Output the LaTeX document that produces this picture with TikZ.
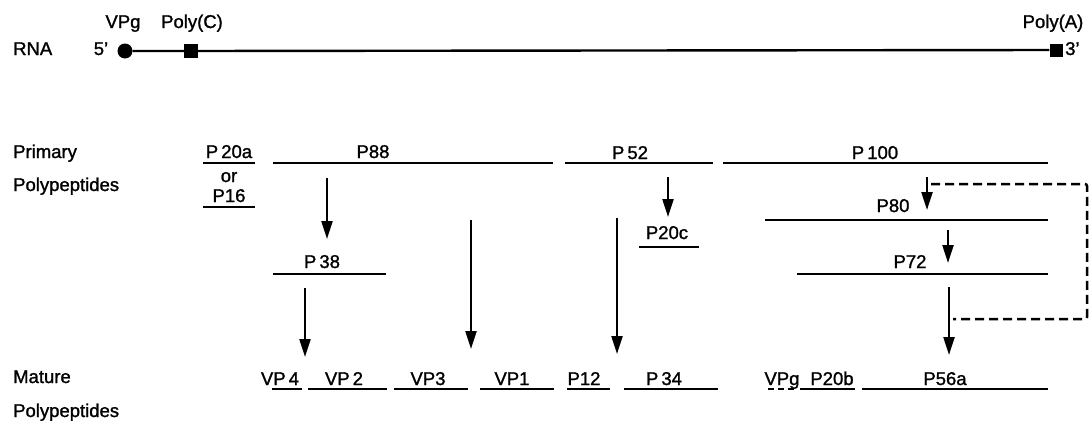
\documentclass[tikz,border=0pt]{standalone}
\usepackage{fontspec}
\setmainfont{Liberation Sans}[BoldFont={Liberation Sans},BoldFeatures={FakeBold=1.3}]
\usetikzlibrary{arrows.meta}
\begin{document}
\begin{tikzpicture}[x=1pt,y=-1pt,
  lbl/.style={anchor=base,inner sep=0pt,font=\fontsize{18.5}{20}\selectfont\bfseries},
  lblw/.style={anchor=base west,inner sep=0pt,font=\fontsize{18.5}{20}\selectfont\bfseries},
  bar/.style={line width=2.9pt},
  arr/.style={line width=2.2pt,-{Triangle[width=11pt,length=18pt]}},
  dsh/.style={line width=2.5pt,dash pattern=on 9pt off 5pt},
  rna/.style={line width=2.4pt}]
\useasboundingbox (0,0) rectangle (1090,423);
% RNA
\node[lblw] (rnal) at (13,55) {RNA};
\node[lbl] (five) at (101,55) {5’};
\node[lbl] (vpgt) at (123,28) {VPg};
\node[lbl] (polyc) at (192,28) {Poly(C)};
\node[lbl] (polya) at (1053,28) {Poly(A)};
\node[lblw] (three) at (1065,55) {3’};
\node[circle,fill,inner sep=0pt,minimum size=15pt] (circ) at (125,51) {};
\node[rectangle,fill,inner sep=0pt,minimum size=14pt] (sqc) at (191,51) {};
\node[rectangle,fill,inner sep=0pt,minimum size=13pt] (sqa) at (1056,50) {};
\draw[rna] (circ) -- (sqc) -- (sqa);
% left labels
\node[lblw] (prim) at (13,158) {Primary};
\node[lblw] (ppol) at (13,191) {Polypeptides};
\node[lblw] (mat) at (13,383) {Mature};
\node[lblw] (mpol) at (13,417) {Polypeptides};
% primary polypeptides
\node[lbl] (p20a) at (229,158) {P\,20a};
\node[lbl] (or) at (229,182) {or};
\node[lbl] (p16) at (229,202) {P16};
\draw[bar] (203,163) -- (255,163);
\draw[bar] (203,207) -- (255,207);
\node[lbl] (p88) at (373,158) {P88};
\draw[bar] (273,163) -- (553,163);
\node[lbl] (p52) at (630,159) {P\,52};
\draw[bar] (565,163) -- (713,163);
\node[lbl] (p100) at (875,159) {P\,100};
\draw[bar] (723,163) -- (1048,163);
% intermediates
\node[lbl] (p38) at (322,268) {P\,38};
\draw[bar] (273,274) -- (386,274);
\node[lbl] (p20c) at (667,239) {P20c};
\draw[bar] (639,247) -- (699,247);
\node[lbl] (p80) at (893,212) {P80};
\draw[bar] (765,220) -- (1048,220);
\node[lbl] (p72) at (910,268) {P72};
\draw[bar] (797,274) -- (1048,274);
% mature
\node[lbl] (vp4) at (280,385) {VP\,4};
\draw[bar] (272,389) -- (302,389);
\node[lbl] (vp2) at (344,385) {VP\,2};
\draw[bar] (308,389) -- (387,389);
\node[lbl] (vp3) at (428,385) {VP3};
\draw[bar] (394,389) -- (468,389);
\node[lbl] (vp1) at (512,385) {VP1};
\draw[bar] (480,389) -- (554,389);
\node[lbl] (p12) at (584,385) {P12};
\draw[bar] (567,389) -- (610,389);
\node[lbl] (p34) at (664,385) {P\,34};
\draw[bar] (624,389) -- (718,389);
\node[lbl] (vpgm) at (782,385) {VPg};
\draw[line width=2.4pt,dash pattern=on 6pt off 4pt] (768,389) -- (797,389);
\node[lbl] (p20b) at (832,385) {P20b};
\draw[bar] (800,389) -- (855,389);
\node[lbl] (p56a) at (945,385) {P56a};
\draw[bar] (862,389) -- (1048,389);
% arrows
\coordinate (a1s) at (327,178); \coordinate (a1e) at (327,239);
\draw[arr] (a1s) -- (a1e);
\coordinate (a2s) at (305,288); \coordinate (a2e) at (305,357);
\draw[arr] (a2s) -- (a2e);
\coordinate (a3s) at (471,220); \coordinate (a3e) at (471,349);
\draw[arr] (a3s) -- (a3e);
\coordinate (a4s) at (668,177); \coordinate (a4e) at (668,217);
\draw[arr] (a4s) -- (a4e);
\coordinate (a5s) at (617,218); \coordinate (a5e) at (617,354);
\draw[arr] (a5s) -- (a5e);
\coordinate (a6s) at (927,177); \coordinate (a6e) at (927,210);
\draw[arr] (a6s) -- (a6e);
\coordinate (a7s) at (948,230); \coordinate (a7e) at (948,263);
\draw[arr] (a7s) -- (a7e);
\coordinate (a8s) at (949,287); \coordinate (a8e) at (949,355);
\draw[arr] (a8s) -- (a8e);
% dashed bypass
\coordinate (d1) at (931,184); \coordinate (d2) at (1087,184);
\coordinate (d3) at (1087,319); \coordinate (d4) at (953,319);
\draw[dsh,rounded corners=2pt] (d1) -- (d2) -- (d3) -- (d4);
\end{tikzpicture}
\end{document}
